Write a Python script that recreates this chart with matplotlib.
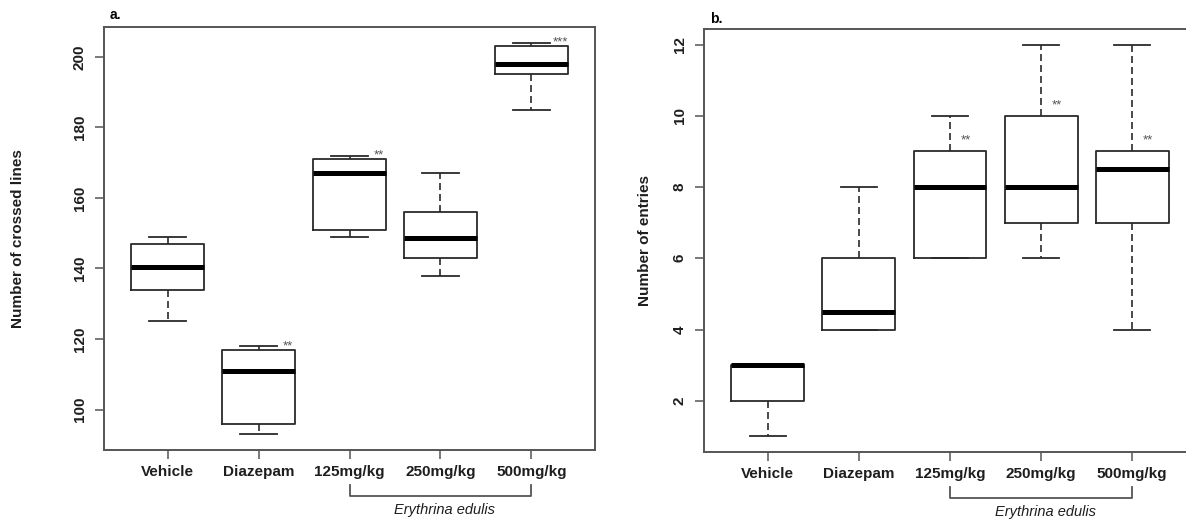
import numpy as np
import matplotlib.pyplot as plt
import matplotlib.transforms as mtransforms

plt.rcParams['font.family'] = ['Liberation Sans', 'DejaVu Sans']

# groups (x axis)
groups = ['Vehicle', 'Diazepam', '125mg/kg', '250mg/kg', '500mg/kg']

# a. number of crossed lines (whisker min, Q1, median, Q3, whisker max)
lines_min = [125, 93, 149, 138, 185]
lines_q1 = [134, 96, 151, 143, 195]
lines_med = [140.5, 111, 167, 148.5, 198]
lines_q3 = [147, 117, 171, 156, 203]
lines_max = [149, 118, 172, 167, 204]
lines_sig = ['', '**', '**', '', '***']

# b. number of entries
entries_min = [1, 4, 6, 6, 4]
entries_q1 = [2, 4, 6, 7, 7]
entries_med = [3, 4.5, 8, 8, 8.5]
entries_q3 = [3, 6, 9, 10, 9]
entries_max = [3, 8, 10, 12, 12]
entries_sig = ['', '', '**', '**', '**']

W, H = 1186, 527
fig = plt.figure(figsize=(W / 100, H / 100), dpi=100)
ax_a = fig.add_axes([104 / W, 1 - 450 / H, 491 / W, 423 / H])
ax_b = fig.add_axes([704 / W, 1 - 452 / H, 492 / W, 423 / H])

edge = '#555555'
boxc = '#2a2a2a'
txtc = '#1e1e1e'


def draw_panel(ax, mins, q1s, meds, q3s, maxs, ylim, yticks, ylabel, label_x):
    stats = []
    for g, lo, q1, m, q3, hi in zip(groups, mins, q1s, meds, q3s, maxs):
        stats.append(dict(label=g, whislo=lo, q1=q1, med=m, q3=q3, whishi=hi))
    pos = np.arange(1, len(groups) + 1)
    ax.bxp(stats, positions=pos, widths=0.8, capwidths=0.4, showfliers=False,
           boxprops=dict(color=boxc, lw=1.3),
           whiskerprops=dict(color=boxc, lw=1.2, ls=(0, (4.2, 2.4))),
           capprops=dict(color=boxc, lw=1.3),
           medianprops=dict(color='black', lw=3.6, solid_capstyle='butt'))
    ax.set_xlim(0.3, 5.7)
    ax.set_ylim(*ylim)
    ax.set_yticks(yticks)
    ax.set_yticklabels([str(t) for t in yticks], rotation=90, va='center',
                       fontweight='bold', fontsize=11, color=txtc)
    ax.set_xticks(pos)
    ax.set_xticklabels(groups, fontweight='bold', fontsize=11, color=txtc)
    ax.tick_params(axis='both', direction='out', length=6.5, width=1.1, color=edge)
    ax.tick_params(axis='y', pad=6)
    ax.tick_params(axis='x', pad=4)
    for s in ax.spines.values():
        s.set_color(edge)
        s.set_linewidth(1.4)
    ax.set_ylabel(ylabel, fontweight='bold', fontsize=11, color=txtc)
    ax.yaxis.set_label_coords(label_x, 0.5)

    # Erythrina edulis bracket under the three dose groups
    tr = mtransforms.blended_transform_factory(ax.transData, ax.transAxes)
    ax.plot([3, 3, 5, 5], [-0.083, -0.109, -0.109, -0.083], color=edge, lw=1.3,
            transform=tr, clip_on=False)
    ax.text(4.05, -0.142, 'Erythrina edulis', style='italic', fontsize=10.5,
            color=txtc, ha='center', va='center', transform=tr)


draw_panel(ax_a, lines_min, lines_q1, lines_med, lines_q3, lines_max,
           (88.56, 208.44), [100, 120, 140, 160, 180, 200],
           'Number of crossed lines', -0.161)
draw_panel(ax_b, entries_min, entries_q1, entries_med, entries_q3, entries_max,
           (0.56, 12.44), [2, 4, 6, 8, 10, 12],
           'Number of entries', -0.106)

# significance marks
for i, s in enumerate(lines_sig):
    if s:
        ax_a.text(i + 1.32, lines_max[i], s, fontsize=9.5, color='#555555',
                  ha='center', va='center')
for i, s in enumerate(entries_sig):
    if s:
        ax_b.text(i + 1.17, entries_q3[i] + 0.3, s, fontsize=9.5, color='#555555',
                  ha='center', va='center')

fig.text(110 / W, 1 - 15 / H, 'a.', fontweight='bold', fontsize=10, va='center')
fig.text(710 / W, 1 - 19 / H, 'b.', fontweight='bold', fontsize=10, va='center')

fig.savefig('out.png', dpi=100)
